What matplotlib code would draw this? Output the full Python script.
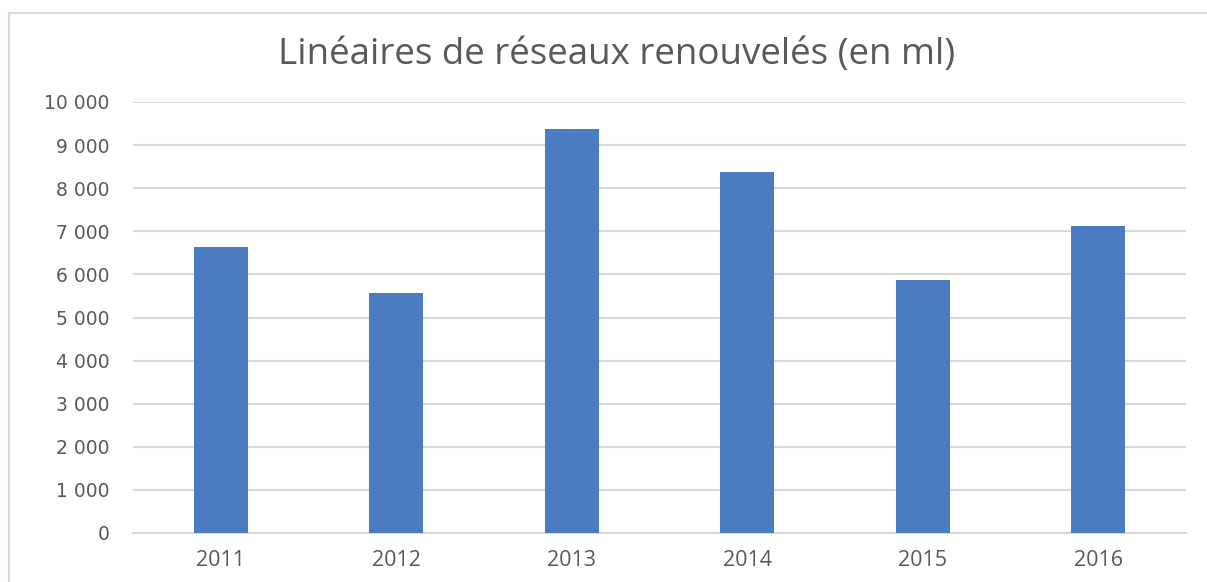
import matplotlib
matplotlib.use("Agg")
import matplotlib.pyplot as plt
from matplotlib.ticker import FuncFormatter, MultipleLocator
from matplotlib.lines import Line2D

years = ["2011", "2012", "2013", "2014", "2015", "2016"]
values = [6640, 5580, 9370, 8370, 5870, 7120]
title = "Linéaires de réseaux renouvelés (en ml)"

fig = plt.figure(figsize=(12.07, 5.82), dpi=100)
fig.patch.set_facecolor("white")
# outer chart border (left and top visible)
bx, by = 9/1207, 1 - 13/582
fig.add_artist(Line2D([bx, bx], [0, by], transform=fig.transFigure,
                      color="#d9d9d9", linewidth=1.5))
fig.add_artist(Line2D([bx, 1], [by, by], transform=fig.transFigure,
                      color="#d9d9d9", linewidth=1.5))

ax = fig.add_axes([133/1207, 1 - 533/582, (1186 - 133)/1207, (533 - 102)/582])
x = range(len(years))
ax.bar(x, values, width=0.31, color="#4a7cbf", zorder=3)
ax.set_xlim(-0.5, len(years) - 0.5)
ax.set_ylim(0, 10000)
ax.yaxis.set_major_locator(MultipleLocator(1000))
ax.yaxis.set_major_formatter(FuncFormatter(lambda v, p: f"{int(v):,}".replace(",", " ")))
ax.grid(axis="y", color="#d9d9d9", linewidth=1.5, zorder=0)
for s in ["top", "right", "left"]:
    ax.spines[s].set_visible(False)
ax.spines["bottom"].set_color("#d9d9d9")
ax.spines["bottom"].set_linewidth(1.5)
ax.set_xticks(list(x))
ax.set_xticklabels(years, fontfamily="Open Sans", fontsize=15.5, color="#595959")
ax.tick_params(axis="x", length=0, pad=12)
ax.tick_params(axis="y", length=0, pad=17, labelsize=13.5, labelcolor="#595959")
for lab in ax.get_yticklabels():
    lab.set_fontfamily("DejaVu Sans")

fig.text(617/1207, 1 - 55/582, title, ha="center", va="center",
         fontfamily="Open Sans", fontsize=26.5, color="#595959")

fig.savefig("out.png", dpi=100)
